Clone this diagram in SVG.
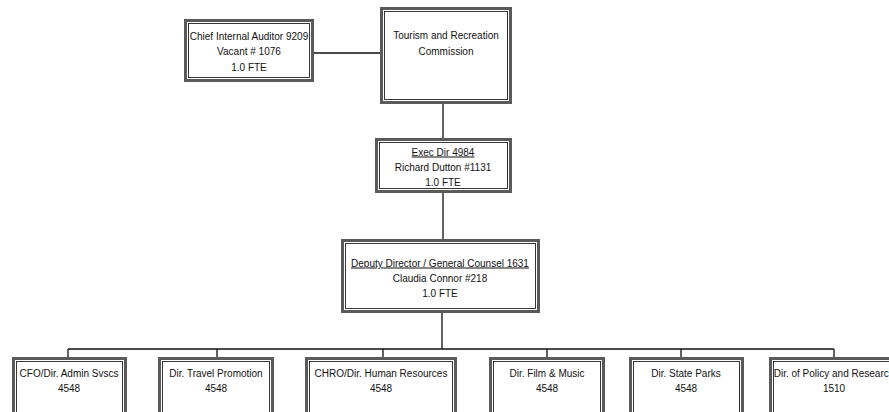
<svg xmlns="http://www.w3.org/2000/svg" width="889" height="412" viewBox="0 0 889 412">
<style>
.o{fill:#fff;stroke:#5a5a5a;stroke-width:3}
.i{fill:none;stroke:#222;stroke-width:0.9}
.t{font-family:"Liberation Sans",Arial,sans-serif;font-size:10px;fill:#111;text-anchor:middle}
.u{text-decoration:underline}
.c{stroke:#111;stroke-width:1.3;fill:none}
</style>
<rect width="889" height="412" fill="#fff"/>
<g id="connectors">
<path class="c" d="M314 53H380M443 104V138M443 193V239M442 313V349M68 349H834M68 349V357M217 349V357M383 349V357M547 349V357M681 349V357M834 349V357"/>
</g>
<g id="chief">
<rect class="o" x="185.5" y="20.5" width="127" height="60"/>
<rect class="i" x="188.5" y="23.5" width="121" height="54"/>
<text class="t" x="249" y="39.5">Chief Internal Auditor 9209</text>
<text class="t" x="249" y="55">Vacant # 1076</text>
<text class="t" x="249" y="70.5">1.0 FTE</text>
</g>
<g id="commission">
<rect class="o" x="381.5" y="8.5" width="129" height="94"/>
<rect class="i" x="384.5" y="11.5" width="123" height="88"/>
<text class="t" x="446" y="39">Tourism and Recreation</text>
<text class="t" x="446" y="55">Commission</text>
</g>
<g id="exec">
<rect class="o" x="376.5" y="139.5" width="134" height="52"/>
<rect class="i" x="379.5" y="142.5" width="128" height="46"/>
<text class="t u" x="443" y="155.5">Exec Dir 4984</text>
<text class="t" x="443" y="170.5">Richard Dutton #1131</text>
<text class="t" x="443" y="185.5">1.0 FTE</text>
</g>
<g id="deputy">
<rect class="o" x="342.5" y="240.5" width="196" height="71"/>
<rect class="i" x="345.5" y="243.5" width="190" height="65"/>
<text class="t u" x="440" y="266.5">Deputy Director / General Counsel 1631</text>
<text class="t" x="440" y="281.5">Claudia Connor #218</text>
<text class="t" x="440" y="296.5">1.0 FTE</text>
</g>
<g id="cfo">
<rect class="o" x="13.5" y="358.5" width="112" height="70"/>
<rect class="i" x="16.5" y="361.5" width="106" height="64"/>
<text class="t" x="69" y="376.5">CFO/Dir. Admin Svscs</text>
<text class="t" x="69" y="391.5">4548</text>
</g>
<g id="travel">
<rect class="o" x="159.5" y="358.5" width="113" height="70"/>
<rect class="i" x="162.5" y="361.5" width="107" height="64"/>
<text class="t" x="216" y="376.5">Dir. Travel Promotion</text>
<text class="t" x="216" y="391.5">4548</text>
</g>
<g id="chro">
<rect class="o" x="306.5" y="358.5" width="149" height="70"/>
<rect class="i" x="309.5" y="361.5" width="143" height="64"/>
<text class="t" x="381" y="376.5">CHRO/Dir. Human Resources</text>
<text class="t" x="381" y="391.5">4548</text>
</g>
<g id="film">
<rect class="o" x="490.5" y="358.5" width="113" height="70"/>
<rect class="i" x="493.5" y="361.5" width="107" height="64"/>
<text class="t" x="547" y="376.5">Dir. Film &amp; Music</text>
<text class="t" x="547" y="391.5">4548</text>
</g>
<g id="parks">
<rect class="o" x="630.5" y="358.5" width="112" height="70"/>
<rect class="i" x="633.5" y="361.5" width="106" height="64"/>
<text class="t" x="686" y="376.5">Dir. State Parks</text>
<text class="t" x="686" y="391.5">4548</text>
</g>
<g id="policy">
<rect class="o" x="770.5" y="358.5" width="127" height="70"/>
<rect class="i" x="773.5" y="361.5" width="121" height="64"/>
<text class="t" x="834" y="376.5">Dir. of Policy and Research</text>
<text class="t" x="834" y="391.5">1510</text>
</g>
</svg>
